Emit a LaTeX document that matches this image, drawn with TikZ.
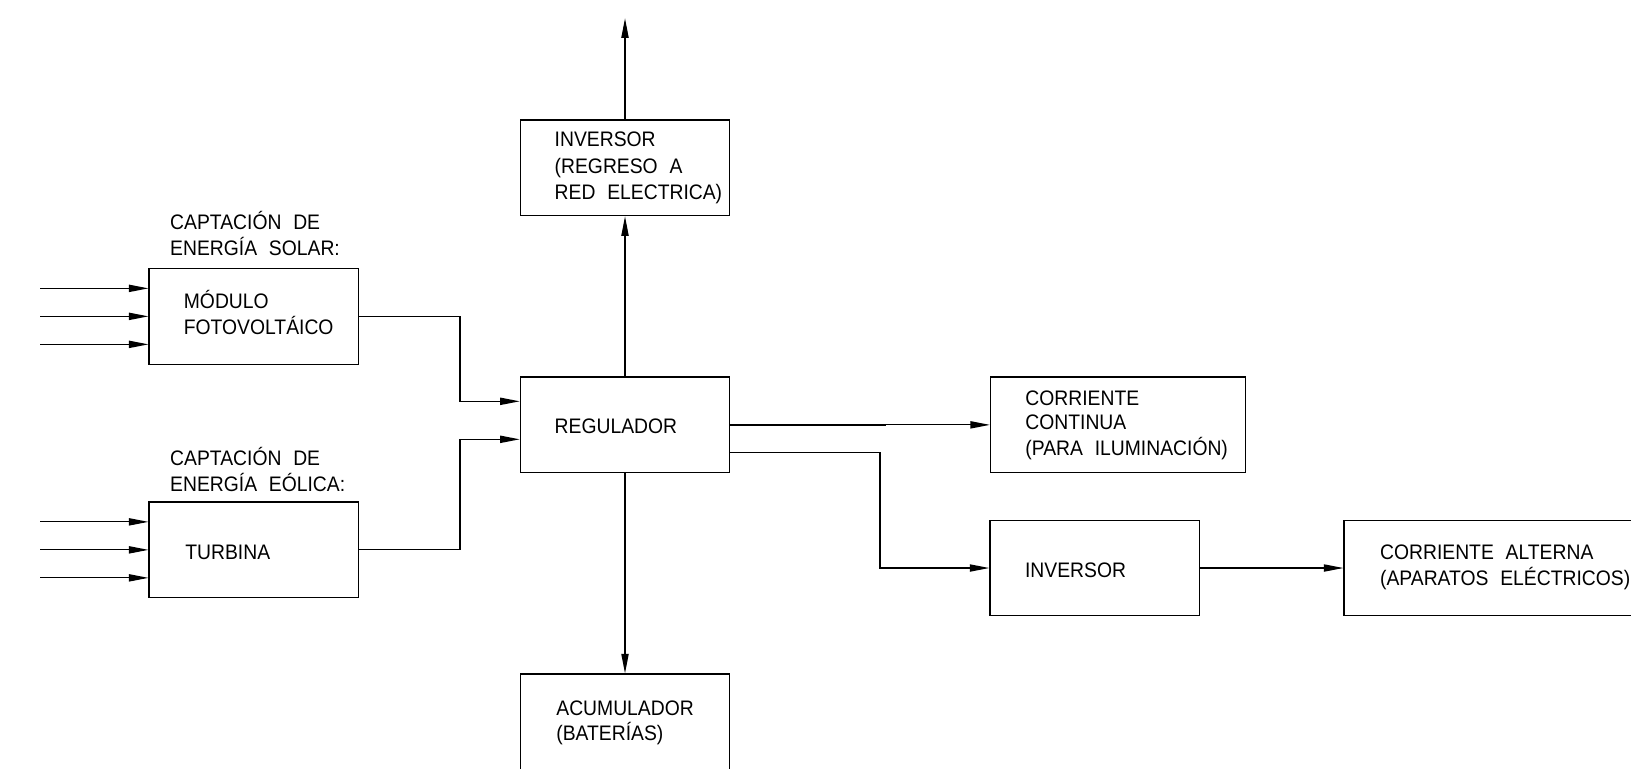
\documentclass[tikz,border=0pt]{standalone}
\usepackage{fontspec}
\setmainfont{Liberation Sans}[FakeStretch=0.92, WordSpace=2.2]
\usetikzlibrary{arrows.meta}
\begin{document}
\begin{tikzpicture}[x=0.5pt,y=-0.5pt,
  ln/.style={line width=0.6pt},
  boxA/.style={draw, ln, inner sep=0pt, minimum width=104.7pt, minimum height=47.85pt},
  boxB/.style={boxA, minimum width=127.5pt},
  lbl/.style={anchor=base west, inner sep=0pt, font=\fontsize{10.5pt}{12pt}\selectfont},
  arr/.style={ln, -{Triangle[length=9.75pt, width=3.6pt]}}]
\path[use as bounding box, fill=white] (0,0) rectangle (1631,768);
\clip (0,0) rectangle (1631,768);

% boxes
\node[boxA] (invA) at (625,167.85) {};
\node[boxA] (reg) at (625,424.85) {};
\node[boxA, minimum height=48pt] (acu) at (625,722) {};
\node[boxA] (mod) at (253.75,316.35) {};
\node[boxA] (tur) at (253.75,549.85) {};
\node[boxB] (cc) at (1118,424.85) {};
\node[boxA] (inv) at (1094.6,568) {};
\node[boxA, minimum width=158pt] (ca) at (1502,568) {};

% labels
\node[lbl] (t1) at (169.8,229.3) {CAPTACIÓN DE};
\node[lbl] (t2) at (169.8,255) {ENERGÍA SOLAR:};
\node[lbl] (t3) at (183.5,308.3) {MÓDULO};
\node[lbl] (t4) at (183.5,334.3) {FOTOVOLTÁICO};
\node[lbl] (t5) at (169.8,465.7) {CAPTACIÓN DE};
\node[lbl] (t6) at (169.8,491.7) {ENERGÍA EÓLICA:};
\node[lbl] (t7) at (185,559) {TURBINA};
\node[lbl] (t8) at (554.3,146.7) {INVERSOR};
\node[lbl] (t9) at (554.3,173.3) {(REGRESO A};
\node[lbl] (t10) at (554.3,199.3) {RED ELECTRICA)};
\node[lbl] (t11) at (554.3,433.3) {REGULADOR};
\node[lbl] (t12) at (556,715) {ACUMULADOR};
\node[lbl] (t13) at (556,740) {(BATERÍAS)};
\node[lbl] (t14) at (1025,405) {CORRIENTE};
\node[lbl] (t15) at (1025,429.3) {CONTINUA};
\node[lbl] (t16) at (1025,455) {(PARA ILUMINACIÓN)};
\node[lbl] (t17) at (1024.7,577.7) {INVERSOR};
\node[lbl] (t18) at (1379.7,559) {CORRIENTE ALTERNA};
\node[lbl] (t19) at (1379.7,585) {(APARATOS ELÉCTRICOS)};

% coordinates
\coordinate (top) at (625,18.3);
\coordinate (i1) at (40,288.35);
\coordinate (i2) at (40,316.35);
\coordinate (i3) at (40,344.35);
\coordinate (i4) at (40,521.85);
\coordinate (i5) at (40,549.85);
\coordinate (i6) at (40,577.85);
\coordinate (ka) at (460,401.3);
\coordinate (kb) at (460,439.3);
\coordinate (kc) at (880,452.3);
\coordinate (kd) at (886.3,424.85);

% input arrows
\foreach \c in {i1,i2,i3} \draw[arr] (\c) -- (\c -| mod.west);
\foreach \c in {i4,i5,i6} \draw[arr] (\c) -- (\c -| tur.west);

% to regulator
\draw[arr] (mod.east) -| (ka) -- (ka -| reg.west);
\draw[arr] (tur.east) -| (kb) -- (kb -| reg.west);

% vertical
\draw[arr] (reg.north) -- (invA.south);
\draw[arr] (invA.north) -- (top);
\draw[arr] (reg.south) -- (acu.north);

% right side
\draw[line width=1.3pt] (reg.east) -- (kd);
\draw[arr] (reg.east) -- (cc.west);
\draw[arr] (kc -| reg.east) -- (kc) |- (inv.west);
\draw[arr] (inv.east) -- (ca.west);
\end{tikzpicture}
\end{document}
